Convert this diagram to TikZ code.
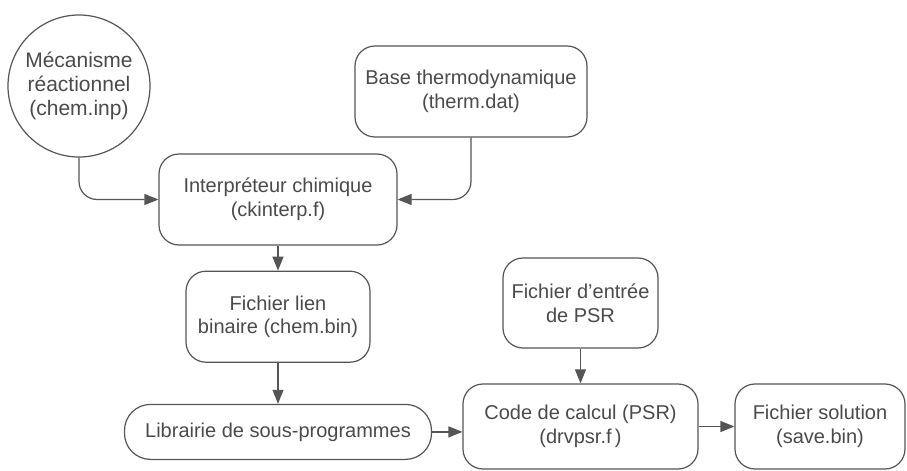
\documentclass[tikz,border=0pt]{standalone}
\usepackage{fontspec}
\setmainfont{Liberation Sans}
\usepackage{xcolor}
\usetikzlibrary{arrows.meta,positioning}
\definecolor{Ink}{HTML}{4A4A4A}
\definecolor{Line}{HTML}{555555}

\begin{document}
\begin{tikzpicture}[x=0.5pt,y=-0.5pt,
    box/.style={draw=Line,line width=0.6pt,rounded corners=10pt,align=center,inner sep=1pt,text=Ink,font=\fontsize{10}{11.8}\selectfont},
    circ/.style={draw=Line,line width=0.6pt,circle,minimum size=71pt,align=center,inner sep=0pt,text=Ink,font=\fontsize{10.5}{12}\selectfont},
    a/.style={-{Triangle[length=7pt,width=5.5pt]},line width=0.6pt,draw=Line}]
    \useasboundingbox (0,0) rectangle (907,471);
    \node[circ] (mech) at (79,86) {Mécanisme\\réactionnel\\(chem.inp)};
    \node[box,minimum width=116pt,minimum height=45.5pt] (thermo) at (471,91.5) {Base thermodynamique\\(therm.dat)};
    \node[box,minimum width=119pt,minimum height=45.5pt] (interp) at (278,199.5) {Interpréteur chimique\\(ckinterp.f)};
    \node[box,minimum width=92pt,minimum height=45.5pt,below=12.5pt of interp] (lien) {Fichier lien\\binaire (chem.bin)};
    \node[box,rounded corners=13pt,minimum width=153.5pt,minimum height=27.5pt,below=20.5pt of lien] (lib) {Librairie de sous-programmes};
    \node[box,minimum width=77.5pt,minimum height=45pt] (entree) at (580.5,303) {Fichier d{\char"0027}entrée\\de PSR};
    \node[box,minimum width=117.5pt,minimum height=42.5pt] (code) at (580.5,426.5) {Code de calcul (PSR)\\(drvpsr.f\,)};
    \node[box,minimum width=85pt,minimum height=42.5pt] (sol) at (820,426.5) {Fichier solution\\(save.bin)};
    \draw[a,rounded corners=9pt] (mech.south) |- (interp.west);
    \draw[a,rounded corners=9pt] (thermo.south) |- (interp.east);
    \draw[a] (interp)--(lien);
    \draw[a] (lien)--(lib);
    \draw[a] (lib.east)--(lib.east -| code.west);
    \draw[a] (entree)--(code);
    \draw[a] (code)--(sol);
  \end{tikzpicture}
\end{document}
